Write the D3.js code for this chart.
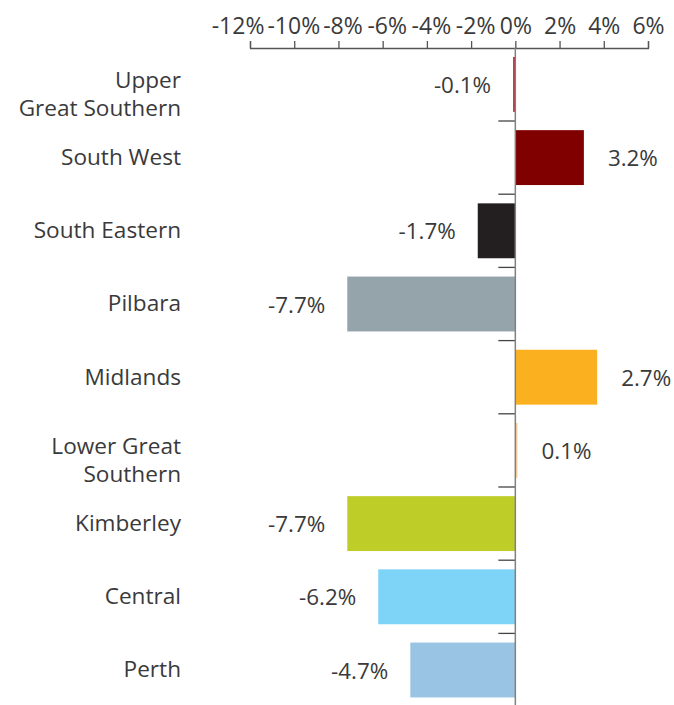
<!DOCTYPE html>
<html>
<head>
<meta charset="utf-8">
<script src="https://cdn.jsdelivr.net/npm/d3@7"></script>
<style>
  html, body { margin: 0; padding: 0; background: #fff; }
  svg text { font-family: "Open Sans", sans-serif; fill: #3a3a3a; }
</style>
</head>
<body>
<svg id="chart" width="674" height="705"></svg>
<script>
// ---- data ----
const categories = ["Upper Great Southern", "South West", "South Eastern", "Pilbara", "Midlands",
                    "Lower Great Southern", "Kimberley", "Central", "Perth"];
const categoryLines = [["Upper", "Great Southern"], ["South West"], ["South Eastern"], ["Pilbara"], ["Midlands"],
                       ["Lower Great", "Southern"], ["Kimberley"], ["Central"], ["Perth"]];
// bar lengths as drawn in the picture
const values = [-0.1, 3.1, -1.7, -7.6, 3.7, 0.1, -7.6, -6.2, -4.75];
// value labels as printed in the picture
const valueLabels = ["-0.1%", "3.2%", "-1.7%", "-7.7%", "2.7%", "0.1%", "-7.7%", "-6.2%", "-4.7%"];
const colors = ["#d0202e", "#800000", "#231f20", "#95a4ab", "#fbb11f", "#fcd29f", "#bfcd28", "#7dd4f6", "#9ac4e4"];
const tickValues = [-12, -10, -8, -6, -4, -2, 0, 2, 4, 6];
const tickLabels = ["-12%", "-10%", "-8%", "-6%", "-4%", "-2%", "0%", "2%", "4%", "6%"];

// ---- layout ----
const svg = d3.select("#chart");
const x = d3.scaleLinear().domain([-12, 6]).range([250, 648]);
const y = d3.scaleBand().domain(categories).range([47.8, 706.6]).paddingInner(0.25).paddingOuter(0.125);
const fs = 22.6;

// bars
svg.append("g").selectAll("rect").data(categories).join("rect")
  .attr("x", (d, i) => x(Math.min(0, values[i])))
  .attr("width", (d, i) => Math.abs(x(values[i]) - x(0)))
  .attr("y", d => y(d))
  .attr("height", y.bandwidth())
  .attr("fill", (d, i) => colors[i]);

// top axis
const xAxis = d3.axisTop(x).tickValues(tickValues).tickSize(7).tickPadding(7)
  .tickFormat((d, i) => tickLabels[i]);
const gx = svg.append("g").attr("transform", "translate(0,48)").call(xAxis);
gx.select(".domain").attr("stroke", "#555").attr("stroke-width", 1.3);
gx.selectAll(".tick line").attr("stroke", "#555").attr("stroke-width", 1.3);
gx.selectAll(".tick text").attr("font-size", 23).attr("font-family", "Open Sans, sans-serif")
  .attr("fill", "#3a3a3a").attr("dy", 0);

// hanging minus: nudge negative labels, then resolve collisions right to left
const texts = gx.selectAll(".tick text").nodes();
let boxes = texts.map(t => {
  const b = t.getBBox();
  const tr = t.parentNode.getAttribute("transform");
  const tx = +tr.match(/translate\(([-\d.]+)/)[1];
  const nudge = t.textContent.startsWith("-") ? 4 : 0;
  return { t, left: tx + b.x, right: tx + b.x + b.width, shift: nudge };
});
for (let i = boxes.length - 2; i >= 0; i--) {
  const next = boxes[i + 1];
  const cur = boxes[i];
  const limit = next.left + next.shift - 3;
  if (cur.right + cur.shift > limit) cur.shift = limit - cur.right;
}
boxes.forEach(b => d3.select(b.t).attr("x", b.shift));

// category ticks (band boundaries)
const step = y.step();
const r0 = y.range()[0];
svg.append("g").selectAll("line").data(d3.range(1, categories.length)).join("line")
  .attr("x1", x(0) - 17).attr("x2", x(0))
  .attr("y1", k => r0 + k * step).attr("y2", k => r0 + k * step)
  .attr("stroke", "#444").attr("stroke-width", 1.3);

// vertical zero axis
svg.append("line")
  .attr("x1", x(0)).attr("x2", x(0))
  .attr("y1", 48).attr("y2", 705)
  .attr("stroke", "#808080").attr("stroke-width", 1.5);

// category labels
const catG = svg.append("g");
categories.forEach((c, i) => {
  const lines = categoryLines[i];
  const cy = y(c) + y.bandwidth() / 2;
  const t = catG.append("text").attr("text-anchor", "end").attr("font-size", fs);
  if (lines.length === 1) {
    t.append("tspan").attr("x", 181).attr("y", cy + 7.4).text(lines[0]);
  } else {
    t.append("tspan").attr("x", 181).attr("y", cy + 3.5).text(lines[0]);
    t.append("tspan").attr("x", 181).attr("y", cy + 31.9).text(lines[1]);
  }
});

// value labels
svg.append("g").selectAll("text").data(categories).join("text")
  .attr("font-size", 22.4)
  .attr("x", (d, i) => values[i] >= 0 ? x(values[i]) + 24 : x(values[i]) - 22)
  .attr("y", d => y(d) + y.bandwidth() / 2 + 8.5)
  .attr("text-anchor", (d, i) => values[i] >= 0 ? "start" : "end")
  .text((d, i) => valueLabels[i]);
</script>
</body>
</html>
